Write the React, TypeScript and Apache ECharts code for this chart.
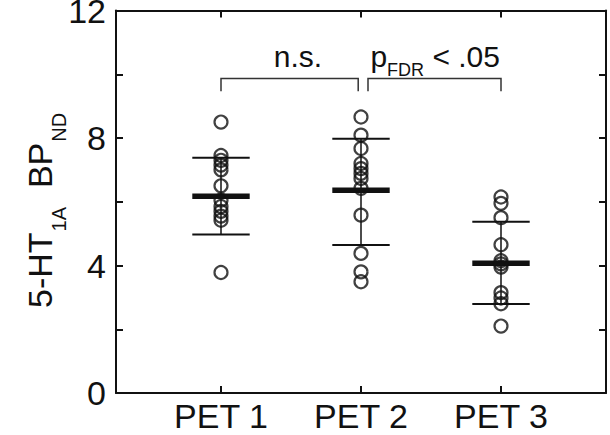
import React, { useEffect, useRef } from 'react';
import * as echarts from 'echarts';

// ---- data ----
const categories = ['PET 1', 'PET 2', 'PET 3'];
const categoryPositions = [1, 2, 3];
const pet1Values = [8.5, 7.45, 7.3, 7.15, 7.0, 6.5, 6.05, 5.85, 5.7, 5.55, 5.42, 3.78];
const pet2Values = [8.66, 8.09, 7.67, 7.2, 7.04, 6.89, 6.73, 6.42, 5.58, 4.38, 3.8, 3.49];
const pet3Values = [6.15, 5.95, 5.5, 4.65, 4.15, 4.05, 3.95, 3.15, 2.98, 2.8, 2.1];
const meanValues = [6.17, 6.36, 4.07];
const sdLower = [4.97, 4.64, 2.79];
const sdUpper = [7.38, 7.98, 5.37];
const yLabelValues = [0, 4, 8, 12];
const bracketStarts = [1, 2.05];
const bracketEnds = [1.98, 3];
const bracketTop = 9.87;
const bracketLegEnd = 9.47;
const bracketLabelX = [1.55, 2.53];
const bracketLabelY = 10.55;
const bracketLabels = [
  [{ text: 'n.s.', sub: false }],
  [
    { text: 'p', sub: false },
    { text: 'FDR', sub: true },
    { text: ' < .05', sub: false },
  ],
];
const yTitleParts = [
  { text: '5-HT', sub: false },
  { text: '1A', sub: true },
  { text: '  BP', sub: false },
  { text: 'ND', sub: true },
];

const FONT = '"Liberation Sans", Arial, Helvetica, sans-serif';
const INK = '#111111';
const MAIN_SIZE = 34;
const SUB_SIZE = 20;
const ANN_SIZE = 30;
const ANN_SUB = 18;

let measureCtx: CanvasRenderingContext2D | null = null;
function measure(text: string, size: number): number {
  if (!measureCtx) measureCtx = document.createElement('canvas').getContext('2d');
  if (!measureCtx) return text.length * size * 0.55;
  measureCtx.font = `${size}px ${FONT}`;
  return measureCtx.measureText(text).width;
}

export default function App() {
  const ref = useRef<HTMLDivElement>(null);

  useEffect(() => {
    if (!ref.current) return;
    const chart = echarts.init(ref.current, null, { renderer: 'svg' });

    const axisLine = { show: true, onZero: false, lineStyle: { color: INK, width: 2 } };
    const tick = { show: true, inside: true, length: 7, lineStyle: { color: INK, width: 2 } };

    const scatterData: number[][] = [];
    [pet1Values, pet2Values, pet3Values].forEach((arr, i) =>
      arr.forEach((v) => scatterData.push([categoryPositions[i], v]))
    );

    const meanData = categoryPositions.map((x, i) => [x, meanValues[i], sdLower[i], sdUpper[i]]);
    const bracketData = bracketStarts.map((s, i) => [
      s,
      bracketEnds[i],
      bracketTop,
      bracketLegEnd,
      bracketLabelX[i],
      bracketLabelY,
    ]);

    // y-axis title (rotated, with subscripts)
    const titleChildren: any[] = [];
    let tx = 0;
    yTitleParts.forEach((p) => {
      const size = p.sub ? SUB_SIZE : MAIN_SIZE;
      titleChildren.push({
        type: 'text',
        x: tx,
        y: p.sub ? 19 : 0,
        style: {
          text: p.text,
          fontSize: size,
          fontFamily: FONT,
          fill: INK,
          align: 'left',
          verticalAlign: 'middle',
        },
      });
      tx += measure(p.text, size) + (p.sub ? 0 : 1);
    });

    const option: any = {
      animation: false,
      backgroundColor: '#ffffff',
      grid: {
        left: 116,
        right: 4,
        top: 10.5,
        bottom: 42,
        containLabel: false,
        outerBoundsMode: 'none',
      },
      xAxis: [
        {
          type: 'value',
          position: 'bottom',
          min: 0.25,
          max: 3.75,
          axisLine,
          axisTick: { ...tick, customValues: categoryPositions },
          axisLabel: {
            customValues: categoryPositions,
            formatter: (v: number) => categories[Math.round(v) - 1] ?? '',
            fontSize: MAIN_SIZE,
            fontFamily: FONT,
            color: INK,
            margin: 6,
          },
          splitLine: { show: false },
        },
        {
          type: 'value',
          position: 'top',
          min: 0.25,
          max: 3.75,
          axisLine,
          axisTick: { ...tick, customValues: categoryPositions },
          axisLabel: { show: false },
          splitLine: { show: false },
        },
      ],
      yAxis: [
        {
          type: 'value',
          position: 'left',
          min: 0,
          max: 12,
          interval: 2,
          axisLine,
          axisTick: tick,
          axisLabel: {
            formatter: (v: number) => (yLabelValues.indexOf(v) >= 0 ? String(v) : ''),
            fontSize: MAIN_SIZE,
            fontFamily: FONT,
            color: INK,
            margin: 10,
            showMinLabel: true,
            showMaxLabel: true,
          },
          splitLine: { show: false },
        },
        {
          type: 'value',
          position: 'right',
          min: 0,
          max: 12,
          interval: 2,
          axisLine,
          axisTick: tick,
          axisLabel: { show: false },
          splitLine: { show: false },
        },
      ],
      graphic: [
        {
          type: 'group',
          x: 40,
          y: 308,
          rotation: Math.PI / 2,
          children: titleChildren,
        },
      ],
      series: [
        {
          type: 'custom',
          name: 'mean ± SD',
          xAxisIndex: 0,
          yAxisIndex: 0,
          data: meanData,
          encode: { x: 0, y: [1, 2, 3] },
          z: 3,
          renderItem: (params: any, api: any) => {
            const x = api.value(0);
            const m = api.value(1);
            const lo = api.value(2);
            const hi = api.value(3);
            const hw = 0.205;
            const seg = (y: number, w: number) => {
              const a = api.coord([x - hw, y]);
              const b = api.coord([x + hw, y]);
              return {
                type: 'line',
                shape: { x1: a[0], y1: a[1], x2: b[0], y2: b[1] },
                style: { stroke: INK, lineWidth: w },
              };
            };
            const pl = api.coord([x, lo]);
            const ph = api.coord([x, hi]);
            return {
              type: 'group',
              children: [
                {
                  type: 'line',
                  shape: { x1: pl[0], y1: pl[1], x2: ph[0], y2: ph[1] },
                  style: { stroke: INK, lineWidth: 1.5 },
                },
                seg(lo, 2),
                seg(hi, 2),
                seg(m, 5.5),
              ],
            };
          },
        },
        {
          type: 'scatter',
          name: 'subjects',
          xAxisIndex: 0,
          yAxisIndex: 0,
          data: scatterData,
          symbol: 'circle',
          symbolSize: 13,
          z: 4,
          itemStyle: { color: 'rgba(0,0,0,0)', borderColor: INK, borderWidth: 2.2 },
        },
        {
          type: 'custom',
          name: 'comparisons',
          xAxisIndex: 0,
          yAxisIndex: 0,
          data: bracketData,
          encode: { x: [0, 1], y: [2, 3] },
          z: 5,
          renderItem: (params: any, api: any) => {
            const i = params.dataIndex;
            const x1 = api.value(0);
            const x2 = api.value(1);
            const yt = api.value(2);
            const yl = api.value(3);
            const lx = api.value(4);
            const ly = api.value(5);
            const pA = api.coord([x1, yl]);
            const pB = api.coord([x1, yt]);
            const pC = api.coord([x2, yt]);
            const pD = api.coord([x2, yl]);
            const lp = api.coord([lx, ly]);
            const parts = bracketLabels[i];
            const widths = parts.map((p) => measure(p.text, p.sub ? ANN_SUB : ANN_SIZE));
            const total = widths.reduce((a, b) => a + b, 0);
            let cx = lp[0] - total / 2;
            const texts = parts.map((p, k) => {
              const el = {
                type: 'text',
                x: cx,
                y: lp[1] + (p.sub ? 13 : 0),
                style: {
                  text: p.text,
                  fontSize: p.sub ? ANN_SUB : ANN_SIZE,
                  fontFamily: FONT,
                  fill: INK,
                  align: 'left',
                  verticalAlign: 'middle',
                },
              };
              cx += widths[k];
              return el;
            });
            return {
              type: 'group',
              children: [
                {
                  type: 'polyline',
                  shape: { points: [pA, pB, pC, pD] },
                  style: { stroke: '#333', lineWidth: 1.5, fill: 'none' },
                },
                ...texts,
              ],
            };
          },
        },
      ],
    };

    chart.setOption(option);
    return () => chart.dispose();
  }, []);

  return (
    <div
      ref={ref}
      style={{ position: 'fixed', left: 0, top: 0, width: 610, height: 435, background: '#fff' }}
    />
  );
}
